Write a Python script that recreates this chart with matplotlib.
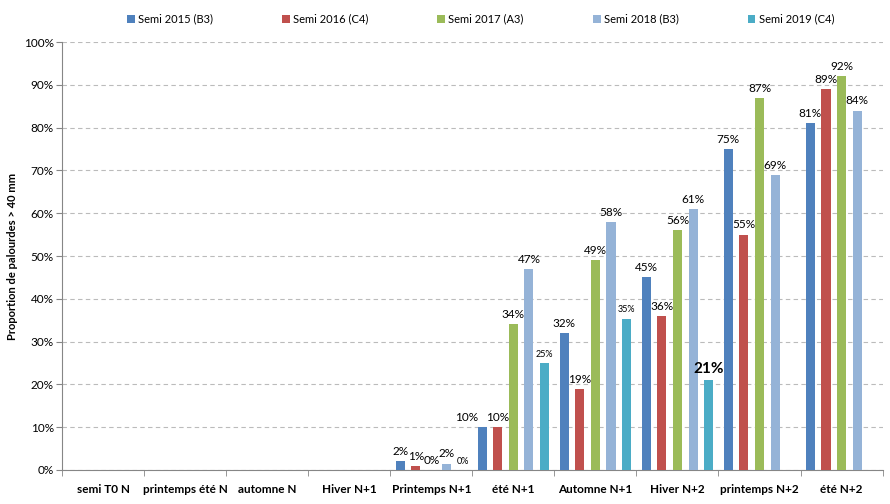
import numpy as np
import matplotlib.pyplot as plt
from matplotlib.ticker import FixedLocator, PercentFormatter

plt.rcParams['font.family'] = ['Lato', 'DejaVu Sans']

categories = ['semi T0 N', 'printemps été N', 'automne N', 'Hiver N+1', 'Printemps N+1',
              'été N+1', 'Automne N+1', 'Hiver N+2', 'printemps N+2', 'été N+2']
seriesNames = ['Semi 2015 (B3)', 'Semi 2016 (C4)', 'Semi 2017 (A3)', 'Semi 2018 (B3)', 'Semi 2019 (C4)']

# values in %, None = no bar
semi2015 = [None, None, None, None, 2, 10, 32, 45, 75, 81]
semi2016 = [None, None, None, None, 1, 10, 19, 36, 55, 89]
semi2017 = [None, None, None, None, 0, 34, 49, 56, 87, 92]
semi2018 = [None, None, None, None, 1.5, 47, 58, 61, 69, 84]
semi2019 = [None, None, None, None, 0, 25, 35.4, 21, None, None]

colors = ['#4F81BD', '#C0504D', '#9BBB59', '#95B3D7', '#4BACC6']
allSeries = [semi2015, semi2016, semi2017, semi2018, semi2019]

fig = plt.figure(figsize=(8.9, 5.04), dpi=100)
ax = fig.add_axes([0.0697, 0.0675, 0.922, 0.849])

x = np.arange(len(categories))
step = 0.19
width = 0.11

for i, (vals, col, name) in enumerate(zip(allSeries, colors, seriesNames)):
    xs = x + (i - 2) * step
    heights = [v if v is not None else 0 for v in vals]
    ax.bar(xs, heights, width=width, color=col, label=name, zorder=3)
    for j, (xi, v) in enumerate(zip(xs, vals)):
        if v is None:
            continue
        lbl = f'{round(v):d}%'
        dx = 0
        # Excel pushed this one left so it doesn't collide with its neighbour
        if i == 0 and j == 5:
            dx = -11
        if i == 4 and v == 21:
            size, weight = 11, 'bold'
        elif i == 4:
            size, weight = 6.5, 'normal'
        else:
            size, weight = 8.5, 'normal'
        ax.annotate(lbl, (xi, v), xytext=(dx, 3), textcoords='offset points',
                    ha='center', va='bottom', fontsize=size, fontweight=weight)

ax.set_xlim(-0.5, len(categories) - 0.5)
ax.set_ylim(0, 100)
ax.yaxis.set_major_locator(FixedLocator(np.arange(0, 101, 10)))
ax.yaxis.set_major_formatter(PercentFormatter(decimals=0))
ax.yaxis.grid(True, linestyle=(0, (4, 3)), color='#BBBBBB', linewidth=0.8, zorder=0)

ax.set_xticks(x)
ax.set_xticklabels(categories, fontweight='bold', fontsize=8.5)
ax.set_xticks(np.arange(-0.5, len(categories), 1), minor=True)
ax.tick_params(axis='x', which='major', length=0, pad=10)
ax.tick_params(axis='x', which='minor', length=4, color='#868686')
ax.tick_params(axis='y', length=4, color='#868686', labelsize=8.5, pad=2)

for s in ['top', 'right']:
    ax.spines[s].set_visible(False)
for s in ['left', 'bottom']:
    ax.spines[s].set_color('#868686')

ax.set_ylabel('Proportion de palourdes > 40 mm', fontweight='bold', fontsize=8)

fig.legend(loc='upper center', bbox_to_anchor=(0.540, 0.993), ncol=5, frameon=False,
           fontsize=8, handlelength=0.7, handleheight=0.7, columnspacing=6.2, handletextpad=0.3)

fig.savefig('out.png', dpi=100)
